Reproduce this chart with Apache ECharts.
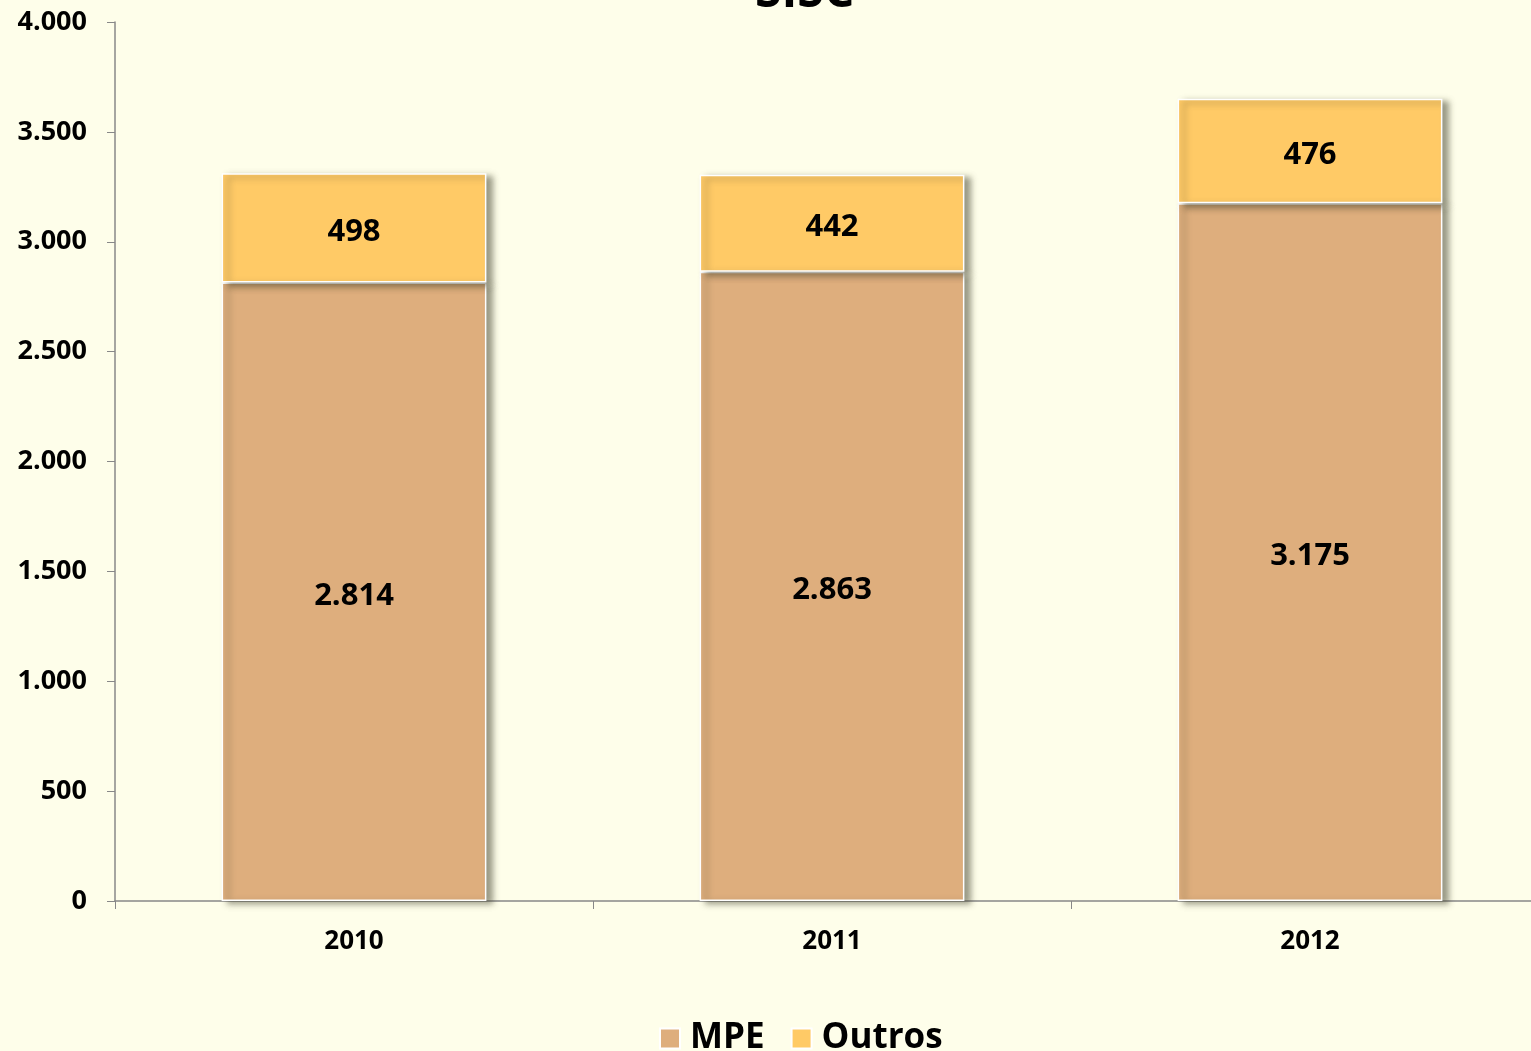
<!DOCTYPE html>
<html>
<head>
<meta charset="utf-8">
<script src="https://cdn.jsdelivr.net/npm/echarts@6/dist/echarts.min.js"></script>
<style>
  html, body { margin: 0; padding: 0; background: #FEFEEA; }
  #chart { width: 1531px; height: 1051px; }
</style>
</head>
<body>
<div id="chart"></div>
<script>
// dados
const years = ['2010', '2011', '2012'];
const mpe = [2814, 2863, 3175];
const outros = [498, 442, 476];
const yTicks = [0, 500, 1000, 1500, 2000, 2500, 3000, 3500, 4000];

const fmt = v => String(v).replace(/\B(?=(\d{3})+(?!\d))/g, '.');
const font = 'Open Sans';

const chart = echarts.init(document.getElementById('chart'));

const barStyle = color => ({
  color: color,
  borderColor: '#ffffff',
  borderWidth: 1.5,
  shadowBlur: 6,
  shadowOffsetX: 6,
  shadowOffsetY: 3,
  shadowColor: 'rgba(60,60,40,0.5)'
});

const labelStyle = {
  show: true,
  position: 'inside',
  offset: [0, 4],
  color: '#000',
  fontFamily: font,
  fontWeight: 'bold',
  fontSize: 31,
  formatter: p => fmt(p.value)
};

chart.setOption({
  backgroundColor: '#FEFEEA',
  animation: false,
  title: {
    text: 'SISC',
    left: 750,
    top: -36,
    textStyle: { fontFamily: font, fontWeight: 'bold', fontSize: 48, color: '#000' }
  },
  legend: {
    bottom: -10,
    left: 654,
    itemWidth: 20,
    itemHeight: 20,
    itemGap: 26,
    icon: 'rect',
    textStyle: { fontFamily: font, fontWeight: 'bold', fontSize: 35, color: '#000', padding: [0, 0, 0, 5] },
    data: ['MPE', 'Outros']
  },
  grid: { left: 115, width: 1434, top: 22, height: 879, containLabel: false, outerBoundsMode: 'none' },
  xAxis: {
    type: 'category',
    data: years,
    axisLine: { lineStyle: { color: '#888', width: 1.5 } },
    axisTick: { show: true, length: 8, lineStyle: { color: '#888' } },
    axisLabel: { fontFamily: font, fontWeight: 'bold', fontSize: 26, color: '#000', margin: 28 }
  },
  yAxis: {
    type: 'value',
    min: yTicks[0],
    max: yTicks[yTicks.length - 1],
    interval: 500,
    splitLine: { show: false },
    axisLine: { show: true, lineStyle: { color: '#888', width: 1.5 } },
    axisTick: { show: true, length: 8, lineStyle: { color: '#888' } },
    axisLabel: {
      fontFamily: font, fontWeight: 'bold', fontSize: 27, color: '#000', margin: 28,
      formatter: v => fmt(v)
    }
  },
  series: [
    {
      name: 'MPE',
      type: 'bar',
      stack: 'total',
      barWidth: '55.4%',
      data: mpe,
      itemStyle: barStyle('#DEAE7D'),
      label: labelStyle
    },
    {
      name: 'Outros',
      type: 'bar',
      stack: 'total',
      barWidth: '55.4%',
      data: outros,
      itemStyle: barStyle('#FFCA66'),
      label: labelStyle
    }
  ]
});
</script>
</body>
</html>
